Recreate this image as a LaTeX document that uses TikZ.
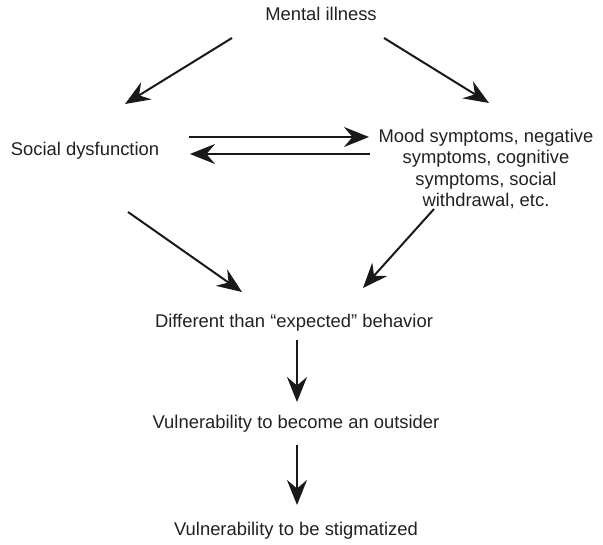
\documentclass[tikz,border=0pt]{standalone}
\usepackage{fontspec}
\setmainfont{Liberation Sans}
\usetikzlibrary{arrows.meta}
\begin{document}
\begin{tikzpicture}[x=1pt,y=-1pt,
  lbl/.style={font=\fontsize{18.4}{21.5}\selectfont, text=black!87, inner sep=0pt, align=center, anchor=base},
  flow/.style={line width=2pt, black!90, -{Stealth[length=25pt,width=20pt,inset=8.5pt]}}]
\useasboundingbox (0,0) rectangle (603,545);

% labels (placed by their baselines)
\node[lbl] (mi)   at (321,21)  {Mental illness};
\node[lbl] (sd)   at (85,156)  {Social dysfunction};
\node[lbl,anchor=north] (ms) at (486,128.5) {Mood symptoms, negative\\symptoms, cognitive\\symptoms, social\\withdrawal, etc.};
\node[lbl] (deb)  at (294,328) {Different than “expected” behavior};
\node[lbl] (out)  at (296,429) {Vulnerability to become an outsider};
\node[lbl] (stig) at (296,535) {Vulnerability to be stigmatized};

% arrow end points
\coordinate (mi-l)  at (232,38);
\coordinate (sd-t)  at (125,104);
\coordinate (mi-r)  at (384,38);
\coordinate (ms-t)  at (489,103);
\coordinate (sd-r1) at (189,137);
\coordinate (ms-l1) at (369,137);
\coordinate (ms-l2) at (370,154);
\coordinate (sd-r2) at (190,154);
\coordinate (sd-b)  at (128,212);
\coordinate (deb-l) at (242,292);
\coordinate (ms-b)  at (434,209);
\coordinate (deb-r) at (363,288);
\coordinate (deb-b) at (297,340);
\coordinate (out-t) at (297,402);
\coordinate (out-b) at (297,445);
\coordinate (stig-t) at (297,505);

% connectors
\draw[flow] (mi-l) -- (sd-t);
\draw[flow] (mi-r) -- (ms-t);
\draw[flow] (sd-r1) -- (ms-l1);
\draw[flow] (ms-l2) -- (sd-r2);
\draw[flow] (sd-b) -- (deb-l);
\draw[flow] (ms-b) -- (deb-r);
\draw[flow] (deb-b) -- (out-t);
\draw[flow] (out-b) -- (stig-t);
\end{tikzpicture}
\end{document}
